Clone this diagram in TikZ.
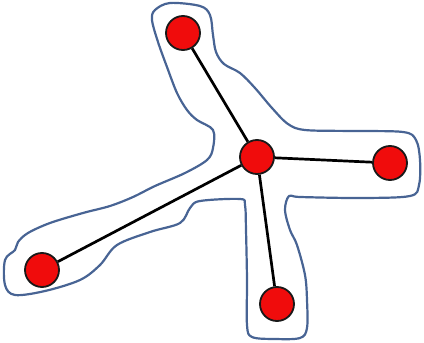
\documentclass[tikz,border=0pt]{standalone}
\definecolor{hullblue}{RGB}{72,100,148}
\definecolor{vertexred}{RGB}{240,12,12}

\begin{document}
\begin{tikzpicture}[x=1pt, y=-1pt,
    vertex/.style={circle, fill=vertexred, draw=black!90, line width=1.8pt,
      minimum size=34pt, inner sep=0pt},
    edge/.style={line width=2.7pt, black},
    hull/.style={line width=2.2pt, hullblue, line join=round}]
  \useasboundingbox (0,0) rectangle (424,343);

  % Outline round the tree
  \draw[hull] plot[smooth cycle, tension=0.55] coordinates {
    (155,10) (170,3) (200,6) (210,15) (213,35) (216,52) (224,64) (240,73)
    (255,88) (272,108) (288,124) (305,130) (350,131) (403,132) (416,140)
    (420,160) (419,185) (410,196) (360,198) (300,197) (289,196) (285,210)
    (290,230) (297,245) (305,275) (307,300) (307,328) (300,338) (275,339)
    (252,337) (247,325) (247,280) (246,230) (245,205) (240,199) (200,201)
    (190,208) (180,223) (150,232) (117,245) (100,265) (80,280) (45,291)
    (15,295) (5,285) (5,260) (15,250) (18,242) (28,233) (50,223) (83,213)
    (110,206) (133,197) (155,186) (185,173) (207,160) (213,148) (213,130)
    (197,120) (187,110) (177,93) (167,67) (158,42) (152,20)};

  % Nodes
  \node[vertex] (hub) at (257,157) {};
  \node[vertex] (top) at (183,33) {};
  \node[vertex] (right) at (390,163) {};
  \node[vertex] (left) at (42,270) {};
  \node[vertex] (bottom) at (277,304) {};

  % Edges
  \foreach \leaf in {top,right,left,bottom}
    \draw[edge] (hub) -- (\leaf);
\end{tikzpicture}
\end{document}
